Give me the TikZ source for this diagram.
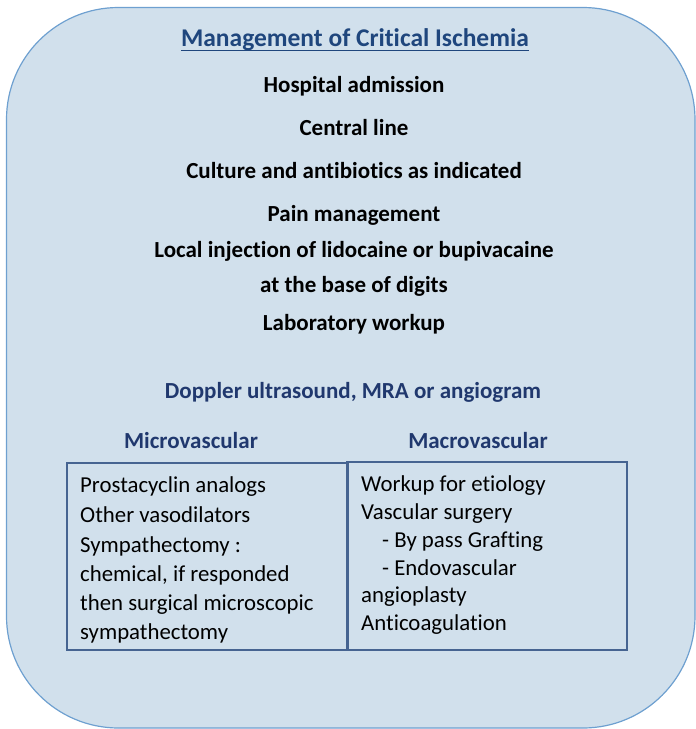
\documentclass[tikz,border=0pt]{standalone}
\usepackage{fontspec}
\setmainfont[Ligatures=NoCommon]{Carlito}
\definecolor{panelfill}{RGB}{209,224,236}
\definecolor{panelline}{RGB}{110,160,208}
\definecolor{boxline}{RGB}{70,100,145}
\definecolor{headblue}{RGB}{31,70,125}
\definecolor{subblue}{RGB}{32,56,110}
\begin{document}
\begin{tikzpicture}[x=1pt,y=-1pt,
  txt/.style={inner sep=0pt,anchor=base,font=\fontsize{23}{27}\selectfont\bfseries},
  head/.style={txt,text=subblue},
  item/.style={inner sep=0pt,anchor=base west,font=\fontsize{22.8}{27}\selectfont},
  listbox/.style={draw=boxline,line width=1.3pt}]
\useasboundingbox (0,0) rectangle (696,729);
% outer rounded panel
\draw[fill=panelfill,draw=panelline,line width=1.2pt,rounded corners=112pt] (6.5,7.5) rectangle (695,728);

% title
\node[txt,text=headblue,font=\fontsize{25.5}{30}\selectfont\bfseries] (title) at (355,46) {Management of Critical Ischemia};
\draw[headblue,line width=1.4pt] ([yshift=-4.5pt]title.base west) -- ([yshift=-4.5pt]title.base east);

% management steps
\node[txt] (s1) at (354,92) {Hospital admission};
\node[txt] (s2) at (354,135) {Central line};
\node[txt] (s3) at (354,178) {Culture and antibiotics as indicated};
\node[txt] (s4) at (354,221) {Pain management};
\node[txt] (s5) at (354,257) {Local injection of lidocaine or bupivacaine};
\node[txt] (s6) at (354,292) {at the base of digits};
\node[txt] (s7) at (354,330) {Laboratory workup};

% imaging and branches
\node[head] (img) at (353,398) {Doppler ultrasound, MRA or angiogram};
\node[head] (micro) at (191,448) {Microvascular};
\node[head] (macro) at (478,448) {Macrovascular};

% treatment boxes
\draw[listbox] (67,463) rectangle (348,650);
\draw[listbox] (347,462) rectangle (627,650);

\node[item] (m1) at (80,492) {Prostacyclin analogs};
\node[item] (m2) at (80,522) {Other vasodilators};
\node[item] (m3) at (80,552) {Sympathectomy :};
\node[item] (m4) at (80,581) {chemical, if responded};
\node[item] (m5) at (80,610) {then surgical microscopic};
\node[item] (m6) at (80,639) {sympathectomy};

\node[item] (a1) at (361,491) {Workup for etiology};
\node[item] (a2) at (361,519) {Vascular surgery};
\node[item] (a3) at (382,547) {- By pass Grafting};
\node[item] (a4) at (382,575) {- Endovascular};
\node[item] (a5) at (361,602) {angioplasty};
\node[item] (a6) at (361,630) {Anticoagulation};
\end{tikzpicture}
\end{document}
